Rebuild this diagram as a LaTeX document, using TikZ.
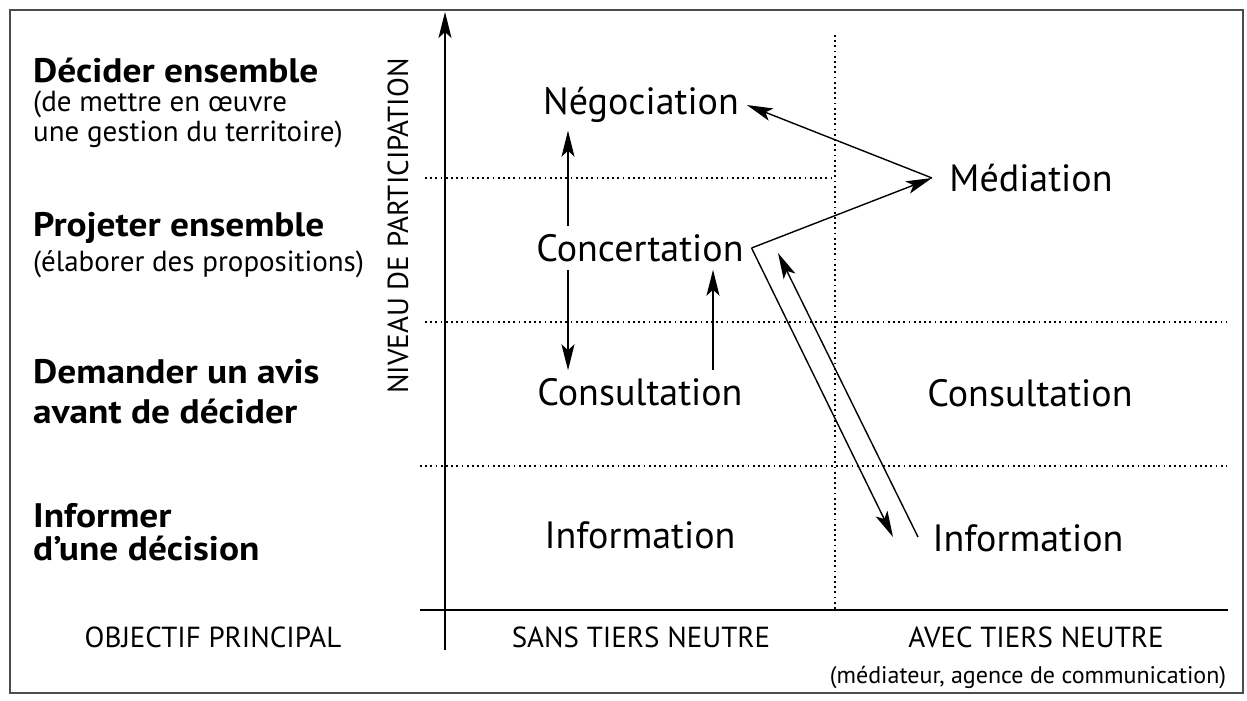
\documentclass[tikz,border=0pt]{standalone}
\usepackage{fontspec}
\setmainfont{PT Sans}
\newfontfamily\goalfont{PT Sans}[FakeStretch=1.1]
\usetikzlibrary{arrows.meta,positioning}

\tikzset{
    stage/.style={font=\fontsize{38}{44}\selectfont, inner sep=0pt, outer sep=8pt},
    goal/.style={font=\goalfont\fontsize{34}{40}\selectfont\bfseries, anchor=base west, align=left, inner sep=0pt},
    goalnote/.style={font=\fontsize{29}{30}\selectfont, anchor=base west, align=left, inner sep=0pt},
    caps/.style={font=\fontsize{29}{34}\selectfont, inner sep=0pt},
    note/.style={font=\fontsize{24}{28}\selectfont, inner sep=0pt},
    dotgrid/.style={line width=1.8pt, dash pattern=on 1.8pt off 3.4pt},
    link/.style={line width=1.4pt, ->}
}

\begin{document}
\begin{tikzpicture}[x=1pt, y=-1pt, >={Stealth[length=26pt, width=13pt, inset=6pt]}]
    \useasboundingbox (0,0) rectangle (1247,701);
    \draw[black!70, line width=1.5pt] (10,10) rectangle (1243,693);

    % axes
    \draw[line width=1.6pt, ->] (445,650) -- (445,12);
    \draw[line width=1.8pt] (420,610) -- (1228,610);

    % grid
    \draw[dotgrid] (835,35) -- (835,610);
    \draw[dotgrid] (425,178) -- (835,178);
    \draw[dotgrid] (425,322) -- (1227,322);
    \draw[dotgrid] (420,466) -- (1227,466);

    % objectives (base = last line)
    \node[goal] (decider) at (33,82) {Décider ensemble};
    \node[goalnote] (deciderN) at (33,141) {(de mettre en œuvre\\une gestion du territoire)};
    \node[goal] (projeter) at (33,236) {Projeter ensemble};
    \node[goalnote] (projeterN) at (33,271) {(élaborer des propositions)};
    \node[goal, font=\goalfont\fontsize{34}{40}\selectfont\bfseries] (demander) at (33,423) {Demander un avis\\avant de décider};
    \node[goal, font=\goalfont\fontsize{34}{33}\selectfont\bfseries] (informer) at (33,560) {Informer\\d’une décision};

    \node[caps] (objectif) at (213,637) {OBJECTIF PRINCIPAL};
    \node[caps, rotate=90] (niveau) at (398,226) {NIVEAU DE PARTICIPATION};
    \node[caps] (sans) at (641,637) {SANS TIERS NEUTRE};
    \node[caps] (avec) at (1036,637) {AVEC TIERS NEUTRE};
    \node[note] (avecN) at (1028,677) {(médiateur, agence de communication)};

    % stages
    \node[stage] (nego) at (641,105) {Négociation};
    \node[stage] (conc) at (640,248) {Concertation};
    \node[stage] (consL) at (640,392) {Consultation};
    \node[stage] (infoL) at (640,535) {Information};
    \node[stage] (med) at (1031,178) {Médiation};
    \node[stage] (consR) at (1030,393) {Consultation};
    \node[stage] (infoR) at (1028,538) {Information};

    \coordinate (colA) at (568,0);
    \coordinate (colB) at (713,0);
    \coordinate (apex) at (932,178);
    \coordinate (drop) at (893,537);
    \coordinate (foot) at (918,537);
    \coordinate (rise) at (778,253);

    \draw[link] (conc.north -| colA) -- (nego.south -| colA);
    \draw[link] (conc.south -| colA) -- (consL.north -| colA);
    \draw[link] (consL.north -| colB) -- (conc.south -| colB);
    \draw[link] (conc.east) -- (apex);
    \draw[link] (apex) -- (nego.east);
    \draw[link] (conc.east) -- (drop);
    \draw[link] (foot) -- (rise);
\end{tikzpicture}
\end{document}
